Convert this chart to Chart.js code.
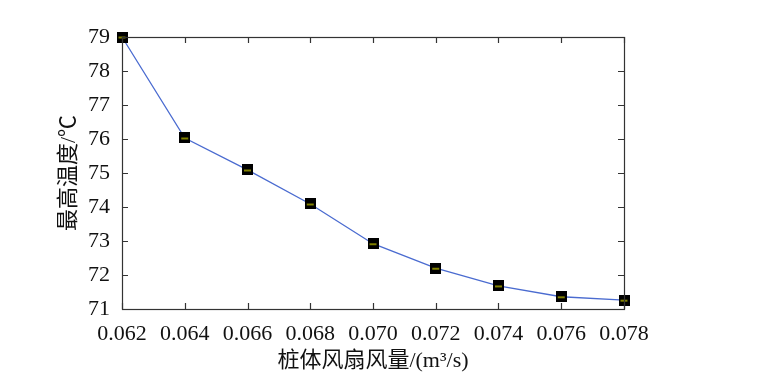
<!DOCTYPE html>
<html><head><meta charset="utf-8">
<script src="https://cdn.jsdelivr.net/npm/chart.js@4/dist/chart.umd.min.js"></script>
<style>html,body{margin:0;padding:0;background:#fff}#wrap{width:770px;height:380px}</style>
</head><body><div id="wrap"><canvas id="c" width="770" height="380"></canvas></div>
<script>
const airflow = [0.062, 0.064, 0.066, 0.068, 0.070, 0.072, 0.074, 0.076, 0.078];
const maxTemp = [79.0, 76.03, 75.09, 74.09, 72.92, 72.2, 71.68, 71.36, 71.26];
const xTitle = '桩体风扇风量/(m³/s)';
const yTitle = '最高温度/℃';

const FONT = '"Liberation Serif","Noto Sans CJK SC",serif';

// marker image: black square with yellow centre stroke
const mk = document.createElement('canvas');
mk.width = 11; mk.height = 11;
(function(){const g = mk.getContext('2d');g.fillStyle='#000';g.fillRect(0,0,11,11);
g.strokeStyle='#d8d800';g.lineWidth=1.2;g.beginPath();g.moveTo(2,6);g.lineTo(9,6);g.stroke();})();

const frame = {
  id:'frame',
  afterDraw(chart){
    const {ctx, chartArea:a, scales:{x,y}} = chart;
    ctx.save();
    ctx.strokeStyle='#333';ctx.lineWidth=1.2;
    ctx.strokeRect(a.left+0.5,a.top+0.5,a.right-a.left,a.bottom-a.top);
    ctx.beginPath();
    const L=6;
    x.ticks.forEach(t=>{const px=Math.round(x.getPixelForValue(t.value))+0.5;
      ctx.moveTo(px,a.bottom);ctx.lineTo(px,a.bottom-L);
      ctx.moveTo(px,a.top);ctx.lineTo(px,a.top+L);});
    y.ticks.forEach(t=>{const py=Math.round(y.getPixelForValue(t.value))+0.5;
      ctx.moveTo(a.left,py);ctx.lineTo(a.left+L,py);
      ctx.moveTo(a.right,py);ctx.lineTo(a.right-L,py);});
    ctx.stroke();
    ctx.restore();
  }
};

new Chart(document.getElementById('c'),{
  type:'line',
  data:{datasets:[{
    data: airflow.map((v,i)=>({x:v,y:maxTemp[i]})),
    borderColor:'#4a6bd0',borderWidth:1.3,tension:0,
    pointStyle:mk,pointRadius:5,pointHoverRadius:5,clip:false
  }]},
  options:{
    responsive:false,animation:false,
    layout:{padding:{left:0,top:37,right:146,bottom:0}},
    plugins:{legend:{display:false},tooltip:{enabled:false}},
    scales:{
      x:{type:'linear',min:0.062,max:0.078,
        afterFit(s){s.height=71;},
        grid:{display:false,drawTicks:false},border:{display:false},
        ticks:{stepSize:0.002,autoSkip:false,maxRotation:0,padding:12,color:'#111',
          font:{family:FONT,size:22},callback:v=>Number(v).toFixed(3)},
        title:{display:true,text:xTitle,color:'#111',font:{family:FONT,size:22},padding:{top:0,bottom:6}}
      },
      y:{min:71,max:79,
        afterFit(s){s.width=122;},
        grid:{display:false,drawTicks:false},border:{display:false},
        ticks:{stepSize:1,padding:12,color:'#111',font:{family:FONT,size:22}},
        title:{display:true,text:yTitle,color:'#111',font:{family:FONT,size:22},padding:{top:56,bottom:0}}
      }
    }
  },
  plugins:[frame]
});
</script></body></html>
